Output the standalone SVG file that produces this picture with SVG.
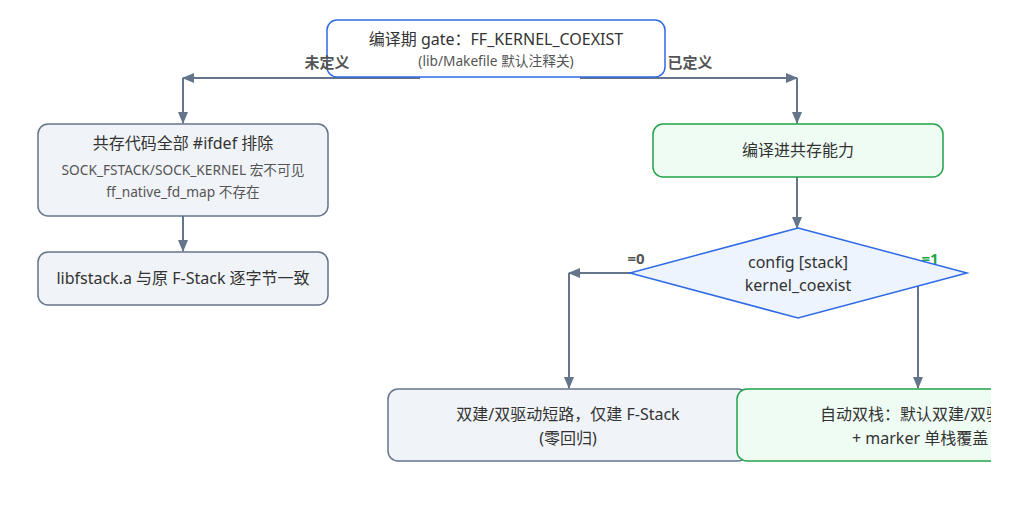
<svg xmlns="http://www.w3.org/2000/svg" width="1024" height="526" viewBox="0 0 1024 526">
<defs>
<marker id="ah" viewBox="0 0 12 10" refX="11" refY="5" markerWidth="12" markerHeight="10" markerUnits="userSpaceOnUse" orient="auto">
<path d="M0,0 L12,5 L0,10 z" fill="#64748b"/>
</marker>
<clipPath id="clip"><rect x="0" y="0" width="991" height="526"/></clipPath>
</defs>
<style>
text{font-family:"Noto Sans","Noto Sans CJK SC",sans-serif;text-anchor:middle;fill:#333}
.t{font-size:16px}
.s{font-size:13.7px;fill:#555}
.lbl{font-size:15px;font-weight:bold;fill:#555}
.edge{fill:none;stroke:#64748b;stroke-width:2;marker-end:url(#ah)}
.gray{fill:#f0f3f8;stroke:#64748b;stroke-width:1.5}
.green{fill:#effcf3;stroke:#22a34a;stroke-width:1.5}
.blue{fill:#ffffff;stroke:#2f6ae6;stroke-width:1.5}
</style>
<rect width="1024" height="526" fill="#ffffff"/>
<g clip-path="url(#clip)">
<g id="connectors">
<path class="edge" d="M420 78 H183"/>
<path class="edge" d="M183 78 V123"/>
<path class="edge" d="M580 78 H797"/>
<path class="edge" d="M797 78 V123"/>
<path class="edge" d="M183 216 V251"/>
<path class="edge" d="M797 177 V228"/>
<path class="edge" d="M653 273 H569"/>
<path class="edge" d="M569 273 V388"/>
<path class="edge" d="M943 273 H918"/>
<path class="edge" d="M918 273 V388"/>
</g>
<g id="gate">
<rect class="blue" x="327" y="20" width="338" height="57" rx="10"/>
<text class="t" x="496" y="45">编译期 gate：FF_KERNEL_COEXIST</text>
<text class="s" x="496" y="66">(lib/Makefile 默认注释关)</text>
</g>
<g id="edge-labels">
<text class="lbl" x="327" y="68">未定义</text>
<text class="lbl" x="690" y="68">已定义</text>
<text class="lbl" x="636" y="264">=0</text>
<text class="lbl" x="930" y="264" style="fill:#22a34a">=1</text>
</g>
<g id="excluded">
<rect class="gray" x="38" y="124" width="290" height="92" rx="10"/>
<text class="t" x="183" y="149">共存代码全部 #ifdef 排除</text>
<text class="s" x="183" y="175">SOCK_FSTACK/SOCK_KERNEL 宏不可见</text>
<text class="s" x="183" y="197">ff_native_fd_map 不存在</text>
</g>
<g id="identical">
<rect class="gray" x="38" y="252" width="290" height="53" rx="10"/>
<text class="t" x="183" y="284">libfstack.a 与原 F-Stack 逐字节一致</text>
</g>
<g id="compiled">
<rect class="green" x="653" y="124" width="290" height="53" rx="10"/>
<text class="t" x="798" y="156">编译进共存能力</text>
</g>
<g id="decision">
<polygon points="798,228 967,273 798,318 630,273" fill="#eef4fe" stroke="#2f6ae6" stroke-width="1.5"/>
<text class="t" x="798" y="268">config [stack]</text>
<text class="t" x="798" y="291">kernel_coexist</text>
</g>
<g id="fstack-only">
<rect class="gray" x="388" y="389" width="360" height="72" rx="10"/>
<text class="t" x="568" y="420">双建/双驱动短路，仅建 F-Stack</text>
<text class="t" x="568" y="444">(零回归)</text>
</g>
<g id="auto-dual">
<rect class="green" x="737" y="389" width="362" height="72" rx="10"/>
<text class="t" x="820" y="420" style="text-anchor:start">自动双栈：默认双建/双驱动</text>
<text class="t" x="852" y="444" style="text-anchor:start">+ marker 单栈覆盖</text>
</g>
</g>
</svg>
